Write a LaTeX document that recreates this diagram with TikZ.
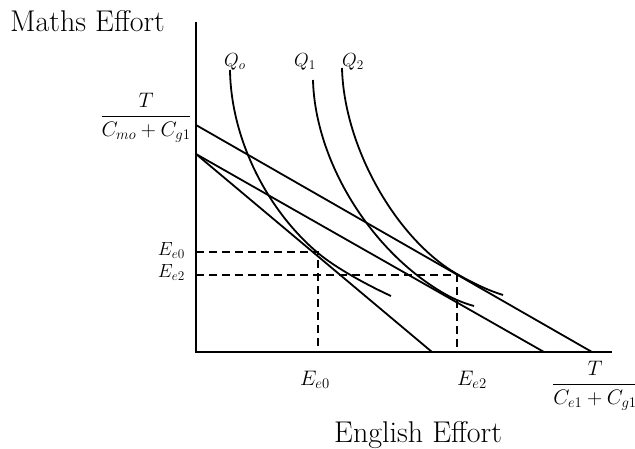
\RequirePackage{fix-cm}
\documentclass[tikz,border=0pt]{standalone}
\usepackage{amsmath}
\begin{document}
\begin{tikzpicture}[x=1pt,y=-1pt,
  axis/.style={line width=2.4pt},
  budget/.style={line width=1.8pt},
  indiff/.style={line width=1.8pt},
  guide/.style={line width=1.8pt, dash pattern=on 8pt off 5pt},
  bigtxt/.style={font=\fontsize{30}{34}\selectfont, inner sep=0pt},
  mathlbl/.style={font=\fontsize{21}{25}\selectfont, inner sep=0pt},
  smlbl/.style={font=\fontsize{19}{22}\selectfont, inner sep=0pt},
  qlbl/.style={font=\fontsize{19}{22}\selectfont, inner sep=0pt}]
\useasboundingbox (0,0) rectangle (635,449);
% axes
\coordinate (O) at (196,352);
\coordinate (ytop) at (196,22);
\coordinate (xend) at (612,352);
\draw[axis] (ytop) -- (O) -- (xend);
% budget lines
\coordinate (A1) at (196,125);
\coordinate (A2) at (592,352);
\coordinate (B1) at (196,154);
\coordinate (B2) at (544,352);
\coordinate (C2) at (432,352);
\draw[budget] (A1) -- (A2);
\draw[budget] (B1) -- (B2);
\draw[budget] (B1) -- (C2);
% dashed guides
\coordinate (h0) at (196,252);
\coordinate (t0) at (318,252);
\coordinate (b0) at (318,352);
\coordinate (h2) at (196,275);
\coordinate (t2) at (457,275);
\coordinate (b2) at (457,352);
\draw[guide] (h0) -- (t0) -- (b0);
\draw[guide] (h2) -- (t2) -- (b2);
% indifference curves
\draw[indiff] (230,70) .. controls (231,140) and (268,211) .. (318,253)
  .. controls (335,267.3) and (365,284) .. (391,296);
\draw[indiff] (313,80) .. controls (315,160) and (370,251.3) .. (445,294)
  .. controls (455,299.7) and (465,303.5) .. (474,306);
\draw[indiff] (342,68) .. controls (344,148) and (397,239.6) .. (457,274)
  .. controls (475,284.3) and (490,291) .. (503,295);
% labels
\node[bigtxt, anchor=base west] (my) at (10,32) {Maths Effort};
\node[bigtxt, anchor=base west] (ex) at (334,442) {English Effort};
\node[mathlbl] (fy) at (146,118) {$\dfrac{T}{C_{mo}+C_{g1}}$};
\node[mathlbl] (fx) at (595,386) {$\dfrac{T}{C_{e1}+C_{g1}}$};
\node[smlbl, anchor=base east] (ey0) at (185,256) {$E_{e0}$};
\node[smlbl, anchor=base east] (ey2) at (185,278) {$E_{e2}$};
\node[mathlbl, anchor=base west] (ex0) at (300,385) {$E_{e0}$};
\node[mathlbl, anchor=base west] (ex2) at (457,385) {$E_{e2}$};
\node[qlbl, anchor=base west] (q0) at (224,67) {$Q_o$};
\node[qlbl, anchor=base west] (q1) at (294,67) {$Q_1$};
\node[qlbl, anchor=base west] (q2) at (342,67) {$Q_2$};
\end{tikzpicture}
\end{document}
